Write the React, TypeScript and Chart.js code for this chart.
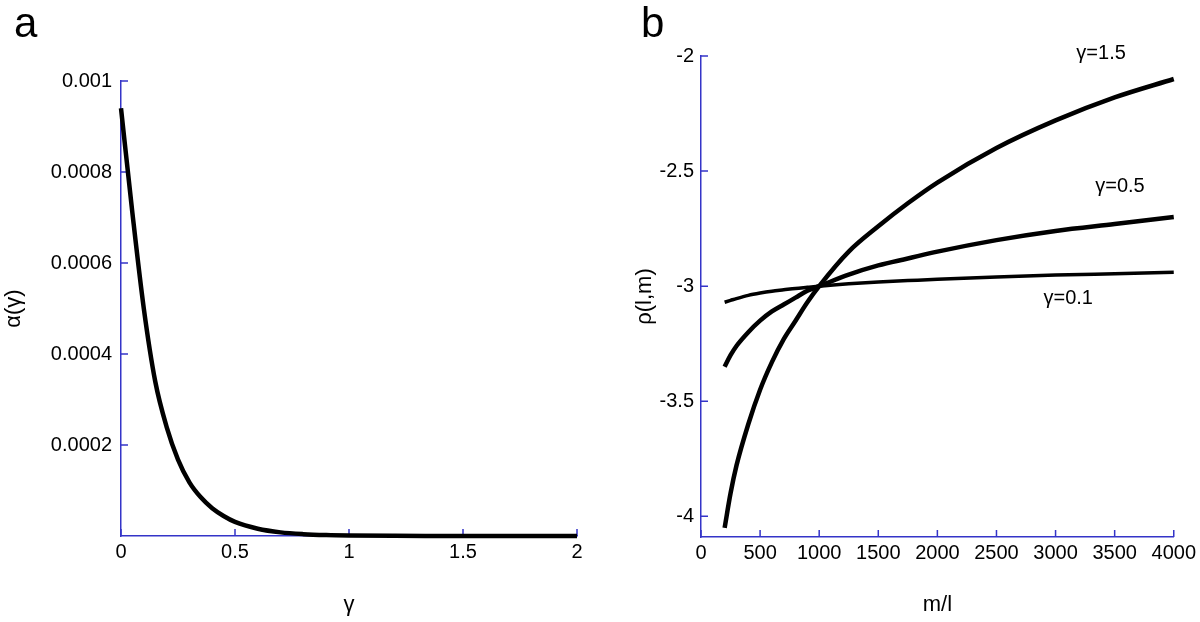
import React, { useEffect, useRef } from "react";
import { Chart, registerables } from "chart.js";

Chart.register(...registerables);

// ---------- Panel a data ----------
const GAMMA = [0, 0.05, 0.1, 0.15, 0.2, 0.25, 0.3, 0.35, 0.4, 0.45, 0.5, 0.6, 0.7, 0.8, 0.9, 1.0, 1.2, 1.4, 1.6, 1.8, 2.0];
const ALPHA = [
  0.00094, 0.00071, 0.0005, 0.00034, 0.00024, 0.000168, 0.000118, 0.000085, 0.000061, 0.000044,
  0.000031, 0.000016, 0.000008, 0.0000041, 0.0000021, 0.0000011, 0.0000003, 0.0000001, 0.00000004,
  0.00000002, 0.00000001,
];
const A_X_TICKS = [0, 0.5, 1, 1.5, 2];
const A_X_LABELS = ["0", "0.5", "1", "1.5", "2"];
const A_Y_TICKS = [0.0002, 0.0004, 0.0006, 0.0008, 0.001];
const A_Y_LABELS = ["0.0002", "0.0004", "0.0006", "0.0008", "0.001"];

// ---------- Panel b data ----------
const M_VALUES = [200, 250, 300, 400, 500, 600, 700, 800, 900, 1000, 1250, 1500, 1750, 2000, 2500, 3000, 3500, 4000];
const RHO_G15 = [-4.05, -3.9, -3.78, -3.6, -3.45, -3.33, -3.23, -3.15, -3.07, -3.0, -2.85, -2.74, -2.64, -2.55, -2.4, -2.28, -2.18, -2.1];
const RHO_G05 = [-3.35, -3.3, -3.26, -3.2, -3.15, -3.11, -3.08, -3.05, -3.02, -3.0, -2.95, -2.91, -2.88, -2.85, -2.8, -2.76, -2.73, -2.7];
const RHO_G01 = [-3.07, -3.062, -3.054, -3.04, -3.03, -3.022, -3.016, -3.01, -3.005, -3.0, -2.99, -2.982, -2.976, -2.97, -2.96, -2.952, -2.946, -2.94];
const B_X_TICKS = [0, 500, 1000, 1500, 2000, 2500, 3000, 3500, 4000];
const B_X_LABELS = ["0", "500", "1000", "1500", "2000", "2500", "3000", "3500", "4000"];
const B_Y_TICKS = [-4, -3.5, -3, -2.5, -2];
const B_Y_LABELS = ["-4", "-3.5", "-3", "-2.5", "-2"];
const CURVE_LABELS = ["γ=1.5", "γ=0.5", "γ=0.1"];
const CURVE_LABEL_M = [3385, 3545, 3107];
const CURVE_LABEL_RHO = [-1.99, -2.565, -3.053];

const FONT = "'Liberation Sans', Arial, Helvetica, sans-serif";
const AXIS_COLOR = "#3434c8";

const inwardTicks = {
  id: "inwardTicks",
  beforeDatasetsDraw(chart: any) {
    const { ctx, chartArea, scales } = chart;
    ctx.save();
    ctx.strokeStyle = AXIS_COLOR;
    ctx.lineWidth = 1.5;
    ctx.beginPath();
    scales.x.ticks.forEach((t: any) => {
      const px = scales.x.getPixelForValue(t.value);
      ctx.moveTo(px, chartArea.bottom);
      ctx.lineTo(px, chartArea.bottom - 7);
    });
    scales.y.ticks.forEach((t: any) => {
      const py = scales.y.getPixelForValue(t.value);
      ctx.moveTo(chartArea.left, py);
      ctx.lineTo(chartArea.left + 7, py);
    });
    ctx.stroke();
    ctx.restore();
  },
};

function panelLetter(text: string, x: number, y: number) {
  return {
    id: "panelLetter",
    afterDraw(chart: any) {
      const ctx = chart.ctx;
      ctx.save();
      ctx.fillStyle = "#000";
      ctx.font = `42px ${FONT}`;
      ctx.textAlign = "left";
      ctx.textBaseline = "alphabetic";
      ctx.fillText(text, x, y);
      ctx.restore();
    },
  };
}

const curveLabels = {
  id: "curveLabels",
  afterDraw(chart: any) {
    const { ctx, scales } = chart;
    ctx.save();
    ctx.fillStyle = "#000";
    ctx.font = `20px ${FONT}`;
    ctx.textAlign = "center";
    ctx.textBaseline = "middle";
    CURVE_LABELS.forEach((t, i) => {
      ctx.fillText(t, scales.x.getPixelForValue(CURVE_LABEL_M[i]), scales.y.getPixelForValue(CURVE_LABEL_RHO[i]));
    });
    ctx.restore();
  },
};

function axisOpts(opts: any) {
  const { ticks, labels, min, max, fit, isX, padding, title, titlePad } = opts;
  return {
    type: "linear",
    min,
    max,
    afterBuildTicks: (s: any) => {
      s.ticks = ticks.map((v: number) => ({ value: v }));
    },
    afterFit: (s: any) => {
      if (isX) s.height = fit;
      else s.width = fit;
    },
    ticks: {
      padding,
      color: "#000",
      font: { family: FONT, size: 20 },
      autoSkip: false,
      maxRotation: 0,
      callback: (_v: any, i: number) => labels[i],
    },
    grid: { display: true, drawOnChartArea: false, drawTicks: false },
    border: { display: true, color: AXIS_COLOR, width: 1.5 },
    title: {
      display: true,
      text: title,
      color: "#000",
      font: { family: FONT, size: 22 },
      padding: titlePad,
    },
  };
}

export default function App() {
  const refA = useRef<HTMLCanvasElement>(null);
  const refB = useRef<HTMLCanvasElement>(null);

  useEffect(() => {
    const chartA = new Chart(refA.current as HTMLCanvasElement, {
      type: "line",
      data: {
        datasets: [
          {
            data: GAMMA.map((g, i) => ({ x: g, y: ALPHA[i] })),
            borderColor: "#000",
            borderWidth: 4.5,
            pointRadius: 0,
            cubicInterpolationMode: "monotone",
            borderCapStyle: "butt",
            clip: false,
          } as any,
        ],
      },
      options: {
        animation: false,
        responsive: false,
        layout: { padding: { top: 81, right: 23, bottom: 0, left: 0 } },
        plugins: { legend: { display: false }, tooltip: { enabled: false } },
        scales: {
          x: axisOpts({ ticks: A_X_TICKS, labels: A_X_LABELS, min: 0, max: 2, fit: 86, isX: true, padding: 4, title: "γ", titlePad: { top: 0, bottom: 4 } }),
          y: axisOpts({ ticks: A_Y_TICKS, labels: A_Y_LABELS, min: 0, max: 0.001, fit: 121, isX: false, padding: 9, title: "α(γ)", titlePad: { top: 1, bottom: 0 } }),
        } as any,
      },
      plugins: [inwardTicks, panelLetter("a", 14, 37)],
    });

    const mk = (vals: number[], w: number) =>
      ({
        data: M_VALUES.map((m, i) => ({ x: m, y: vals[i] })),
        borderColor: "#000",
        borderWidth: w,
        pointRadius: 0,
        cubicInterpolationMode: "monotone",
        borderCapStyle: "butt",
        clip: false,
      } as any);

    const chartB = new Chart(refB.current as HTMLCanvasElement, {
      type: "line",
      data: { datasets: [mk(RHO_G15, 4.5), mk(RHO_G05, 4.5), mk(RHO_G01, 3.5)] },
      options: {
        animation: false,
        responsive: false,
        layout: { padding: { top: 56, right: 24, bottom: 0, left: 0 } },
        plugins: { legend: { display: false }, tooltip: { enabled: false } },
        scales: {
          x: axisOpts({ ticks: B_X_TICKS, labels: B_X_LABELS, min: 0, max: 4000, fit: 85, isX: true, padding: 4, title: "m/l", titlePad: { top: 0, bottom: 4 } }),
          y: axisOpts({ ticks: B_Y_TICKS, labels: B_Y_LABELS, min: -4.09, max: -2, fit: 101, isX: false, padding: 7, title: "ρ(l,m)", titlePad: { top: 32, bottom: 0 } }),
        } as any,
      },
      plugins: [inwardTicks, curveLabels, panelLetter("b", 41, 37)],
    });

    return () => {
      chartA.destroy();
      chartB.destroy();
    };
  }, []);

  return (
    <div style={{ position: "absolute", left: 0, top: 0, width: 1200, height: 622, background: "#fff" }}>
      <canvas ref={refA} width={600} height={622} style={{ position: "absolute", left: 0, top: 0, display: "block" }} />
      <canvas ref={refB} width={600} height={622} style={{ position: "absolute", left: 600, top: 0, display: "block" }} />
    </div>
  );
}
